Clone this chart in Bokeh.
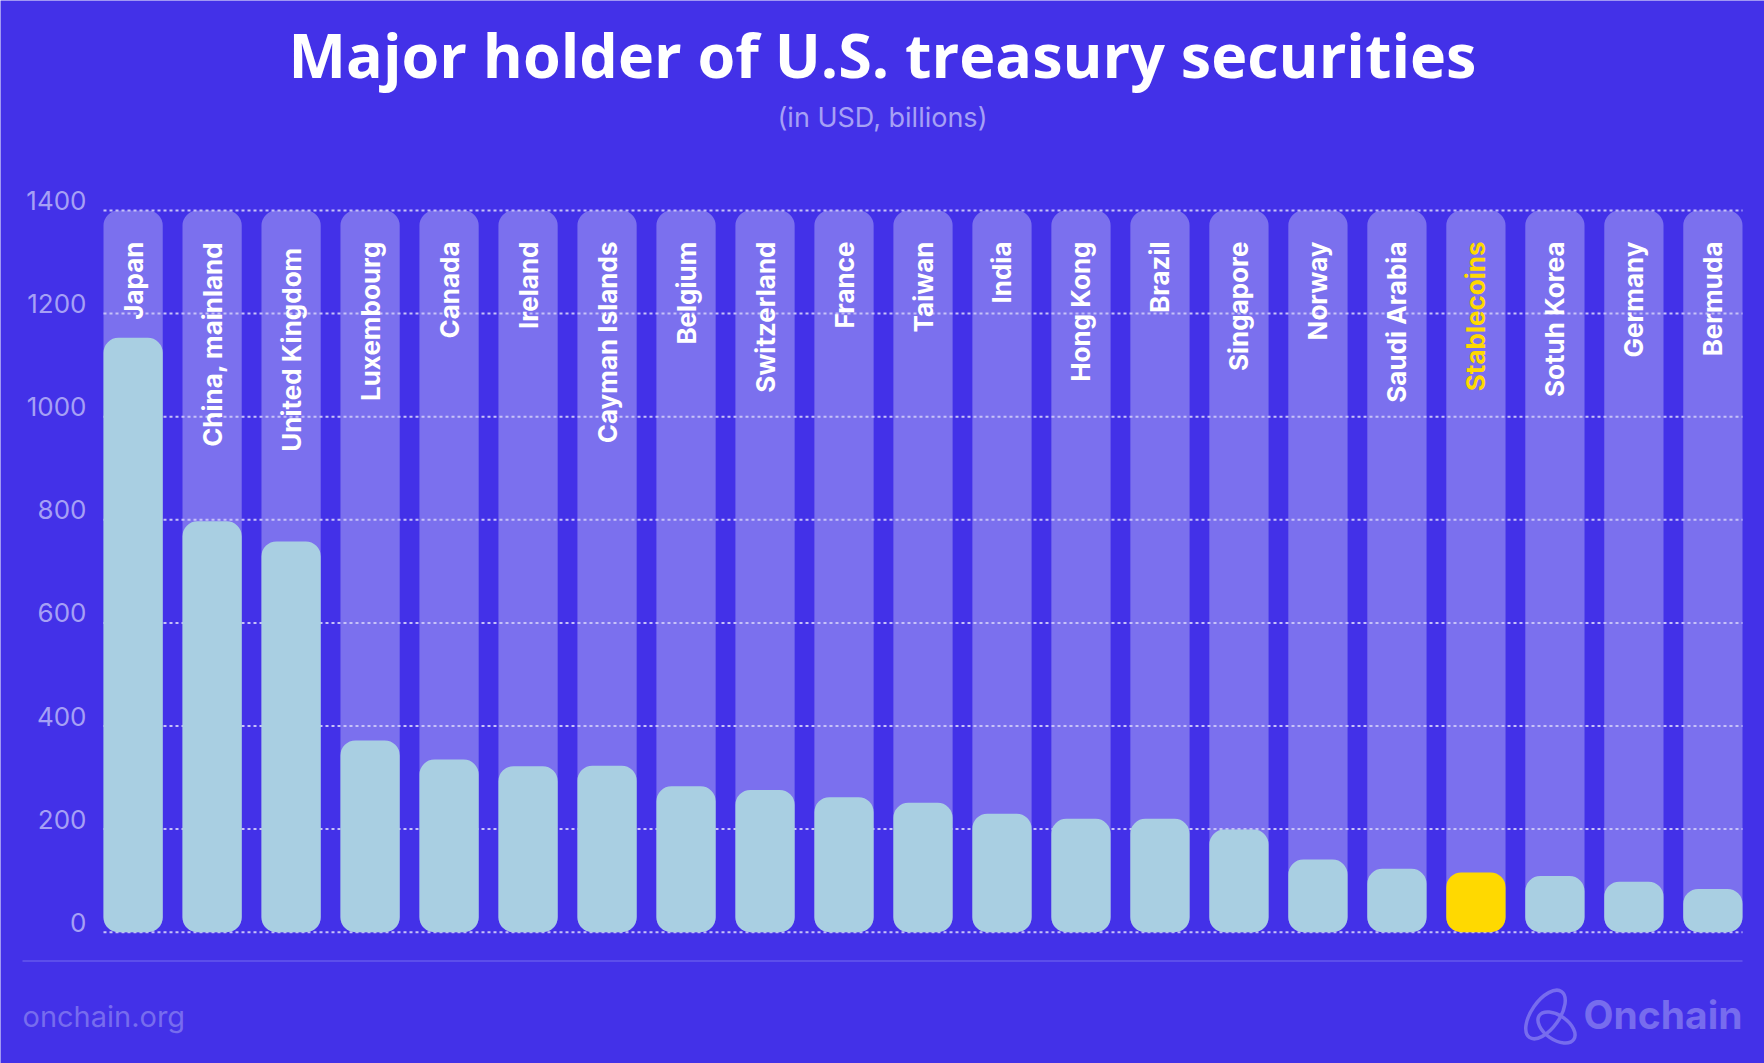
import numpy as np
from bokeh.plotting import figure
from bokeh.models import ColumnDataSource, Range1d
from bokeh.core.properties import value
from bokeh.embed import file_html
from bokeh.resources import INLINE

# ---------------- data ----------------
categories = ["Japan", "China, mainland", "United  Kingdom", "Luxembourg", "Canada",
              "Ireland", "Cayman Islands", "Belgium", "Switzerland", "France", "Taiwan",
              "India", "Hong Kong", "Brazil", "Singapore", "Norway", "Saudi Arabia",
              "Stablecoins", "Sotuh Korea", "Germany", "Bermuda"]
holdings = [1153, 797, 758, 372, 335, 322, 323, 283, 276, 262, 251,
            230, 220, 220, 199, 141, 123, 116, 109, 98, 84]
highlight = "Stablecoins"
track_max = 1400
y_ticks = [0, 200, 400, 600, 800, 1000, 1200, 1400]
y_tick_labels = [str(v) for v in y_ticks]

# ---------------- style / layout ----------------
BG = "#4331E8"
TRACK = "#7B70EE"
BAR = "#A9CFE2"
YELLOW = "#FFD900"
GRID = "#C6C1F8"
MUTED = "#A6A0F5"
FOOT = "#776CEE"

W, H = 1764, 1063
BAR_W = 0.75
n = len(categories)
# pixel geometry of the plotting area
PX_L, PX_R = 103, 1742          # left / right edge of bar block
PX_TOP, PX_ZERO = 210, 931.7    # pixel rows of top tick and zero
px_x = (PX_R - PX_L) / (n - 1 + BAR_W)
px_y = (PX_ZERO - PX_TOP) / y_ticks[-1]
x0 = -BAR_W / 2 - PX_L / px_x
y1 = y_ticks[-1] + PX_TOP / px_y

def X(px):
    return x0 + px / px_x

def Y(py):
    return y1 - py / px_y

src = ColumnDataSource(dict(
    x=list(range(n)),
    cat=categories,
    val=holdings,
    track=[track_max] * n,
    color=[YELLOW if c == highlight else BAR for c in categories],
    tcolor=[YELLOW if c == highlight else "#FFFFFF" for c in categories],
))

p = figure(width=W, height=H, title=None, x_axis_type=None, y_axis_type=None,
           x_range=Range1d(x0, X(W)), y_range=Range1d(Y(H), y1),
           output_backend="svg", toolbar_location=None,
           min_border=0, min_border_left=0, min_border_right=0,
           min_border_top=0, min_border_bottom=0,
           background_fill_color=BG, border_fill_color=BG, outline_line_color=None)
p.grid.visible = False

# track bars
p.vbar(x="x", top="track", bottom=0, width=BAR_W, source=src,
       fill_color=TRACK, line_color=None, border_radius=15)
# dotted grid lines over the tracks
gx0, gx1 = -BAR_W / 2, n - 1 + BAR_W / 2
p.segment(x0=[gx0] * len(y_ticks), x1=[gx1] * len(y_ticks), y0=y_ticks, y1=y_ticks,
          line_color=GRID, line_width=2, line_dash="3 3")
# value bars
p.vbar(x="x", top="val", bottom=0, width=BAR_W, source=src,
       fill_color="color", line_color=None, border_radius=15)
# category labels inside the tracks
p.text(x="x", y="track", text="cat", source=src, angle=np.pi / 2,
       text_align="right", text_baseline="middle", y_offset=31,
       text_color="tcolor", text_font=value("Inter"), text_font_style="bold",
       text_font_size="26px")

# y tick labels
p.text(x=[X(86)] * len(y_ticks), y=y_ticks, text=y_tick_labels,
       text_align="right", text_baseline="middle", y_offset=-10,
       text_color=MUTED, text_font=value("Inter"), text_font_size="26px")

# title / subtitle
p.text(x=[X(882)], y=[Y(54)], text=["Major holder of U.S. treasury securities"],
       text_align="center", text_baseline="middle", text_color="#FFFFFF",
       text_font=value("Open Sans"), text_font_style="bold", text_font_size="61px")
p.text(x=[X(882)], y=[Y(117)], text=["(in USD, billions)"],
       text_align="center", text_baseline="middle", text_color=MUTED,
       text_font=value("Inter"), text_font_size="27px")

# footer
p.segment(x0=[X(22)], x1=[X(1742)], y0=[Y(960.5)], y1=[Y(960.5)],
          line_color=FOOT, line_width=1)
p.text(x=[X(22)], y=[Y(1015.5)], text=["onchain.org"],
       text_align="left", text_baseline="middle", text_color=FOOT,
       text_font=value("Inter"), text_font_size="29px")
p.text(x=[X(1742)], y=[Y(1014)], text=["Onchain"],
       text_align="right", text_baseline="middle", text_color=FOOT,
       text_font=value("Inter"), text_font_style="bold", text_font_size="39px")
# logo rings
p.ellipse(x=[X(1545), X(1556)], y=[Y(1014), Y(1027)], width=[56, 42], height=[28, 24],
          angle=[np.radians(55), np.radians(-35)],
          width_units="screen", height_units="screen",
          fill_alpha=0, line_color=FOOT, line_width=3.5)

open("out.html", "w").write(file_html(p, INLINE))
